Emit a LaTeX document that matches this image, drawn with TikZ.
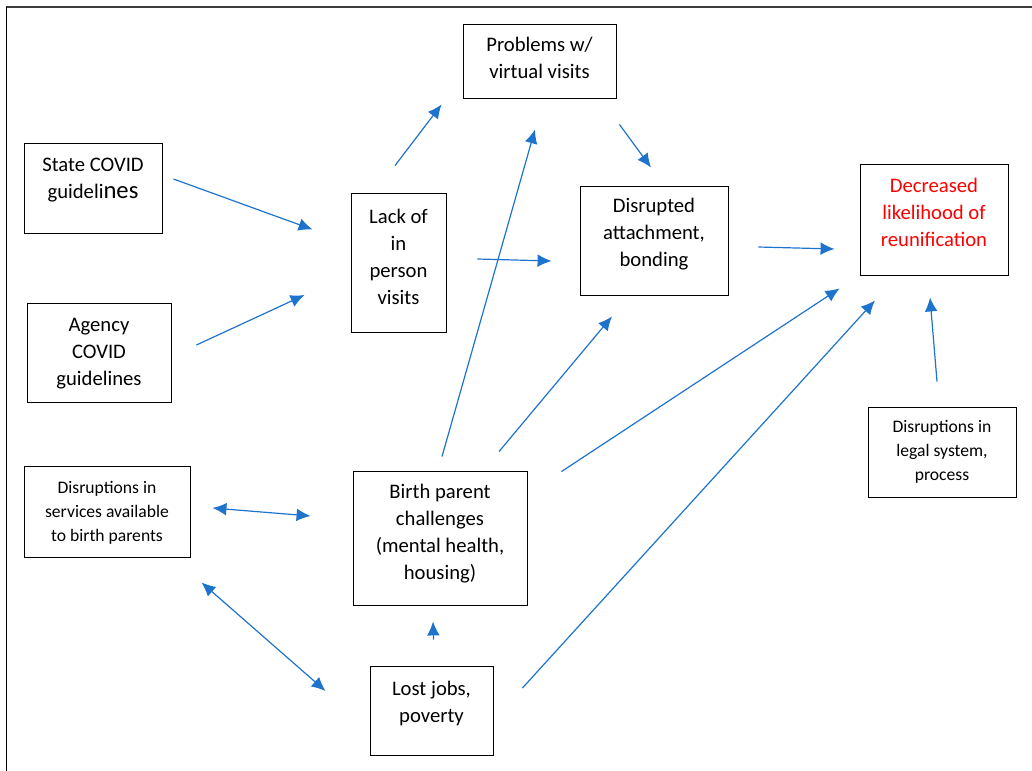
\documentclass[tikz,border=0pt]{standalone}
\usepackage{fontspec}
\setmainfont{Carlito}
\usetikzlibrary{calc}
\usetikzlibrary{arrows.meta}

\definecolor{arrowblue}{RGB}{30,115,205}
\definecolor{framegray}{RGB}{60,60,60}

\tikzset{
	box/.style 2 args={rectangle, draw=black, line width=0.65pt, inner sep=0pt, minimum width=#1*0.75pt, minimum height=#2*0.75pt},
	txt/.style={align=center, inner sep=0pt, font=\fontsize{15.5}{20.25}\selectfont},
	smalltxt/.style={align=center, inner sep=0pt, font=\fontsize{13.2}{18}\selectfont},
	arr/.style={draw=arrowblue, line width=0.9pt, -{Latex[length=10.5pt,width=9.5pt]}},
	dblarr/.style={draw=arrowblue, line width=0.9pt, {Latex[length=10.5pt,width=9.5pt]}-{Latex[length=10.5pt,width=9.5pt]}},
}

\begin{document}
\begin{tikzpicture}[x=0.75pt, y=-0.75pt]

		\useasboundingbox (0,0) rectangle (1032,771);

		% frame of the page
		\draw[draw=framegray, line width=1.1pt] (6,7) -- (1032,7);
		\draw[draw=black, line width=1.1pt] (6.5,7) -- (6.5,771);

		% left column
		\node[box={138}{90}, label={[txt, yshift=6pt]center:State COVID\\guideli{\fontsize{18.5}{20}\selectfont nes}}] (state) at (93,188) {};
		\node[box={144}{99}, label={[txt, yshift=-1pt]center:Agency\\COVID\\guidelines}] (agency) at (99,352.5) {};
		\node[box={166}{91}, label={[smalltxt, yshift=-1pt]center:Disruptions in\\services available\\to birth parents}] (services) at (107,511.5) {};

		% middle
		\node[box={95}{139}, label={[txt, yshift=4.5pt]center:Lack of\\in\\person\\visits}] (lack) at (398.5,262.5) {};
		\node[box={153}{74}, label={[txt, yshift=2.25pt]center:Problems w/\\virtual visits}] (problems) at (539.5,61) {};
		\node[box={148}{109}, label={[txt, yshift=4.5pt]center:Disrupted\\attachment,\\bonding}] (disrupted) at (654,240.5) {};
		\node[box={174}{134}, label={[txt, yshift=3pt]center:Birth parent\\challenges\\(mental health,\\housing)}] (birth) at (440,538) {};
		\node[box={123}{89}, label={[txt, yshift=5.25pt]center:Lost jobs,\\poverty}] (lost) at (431.5,710.5) {};

		% right column
		\node[box={148}{111}, label={[txt, text=red, yshift=5.25pt]center:Decreased\\likelihood of\\reunification}] (decreased) at (934,219.5) {};
		\node[box={148}{90}, label={[smalltxt]center:Disruptions in\\legal system,\\process}] (legal) at (942,452) {};

		% arrows
		\draw[arr] ($(state.east)+(11,-9)$) -- ($(lack.west)+(-38,-33)$);
		\draw[arr] ($(agency.east)+(25,-7.5)$) -- ($(lack.west)+(-46,32.5)$);
		\draw[arr] ($(lack.north)+(-3.5,-27)$) -- ($(problems.south west)+(-21,6)$);
		\draw[arr] ($(problems.south east)+(3,26)$) -- ($(disrupted.north)+(-3,-18)$);
		\draw[arr] ($(lack.east)+(31,-3.5)$) -- ($(disrupted.west)+(-28,20.5)$);
		\draw[arr] ($(disrupted.east)+(30,6.5)$) -- ($(decreased.west)+(-25,29.5)$);
		\draw[arr] ($(birth.north)+(2,-14)$) -- ($(problems.south)+(-4.5,31)$);
		\draw[arr] ($(birth.north)+(59,-19)$) -- ($(disrupted.south)+(-42,21)$);
		\draw[arr] ($(birth.north east)+(34,1)$) -- ($(decreased.south west)+(-20,13)$);
		\draw[arr] ($(lost.east)+(29,-22.5)$) -- ($(decreased.south)+(-59,25)$);
		\draw[arr] ($(legal.north)+(-5,-25)$) -- ($(decreased.south)+(-4,22)$);
		\draw[arr] ($(lost.north)+(2,-26)$) -- ($(birth.south)+(-7,16)$);
		\draw[dblarr] ($(services.east)+(22,-3.5)$) -- ($(birth.west)+(-42,-22)$);
		\draw[dblarr] ($(services.south east)+(11,25)$) -- ($(lost.west)+(-44,-19.5)$);

\end{tikzpicture}
\end{document}
